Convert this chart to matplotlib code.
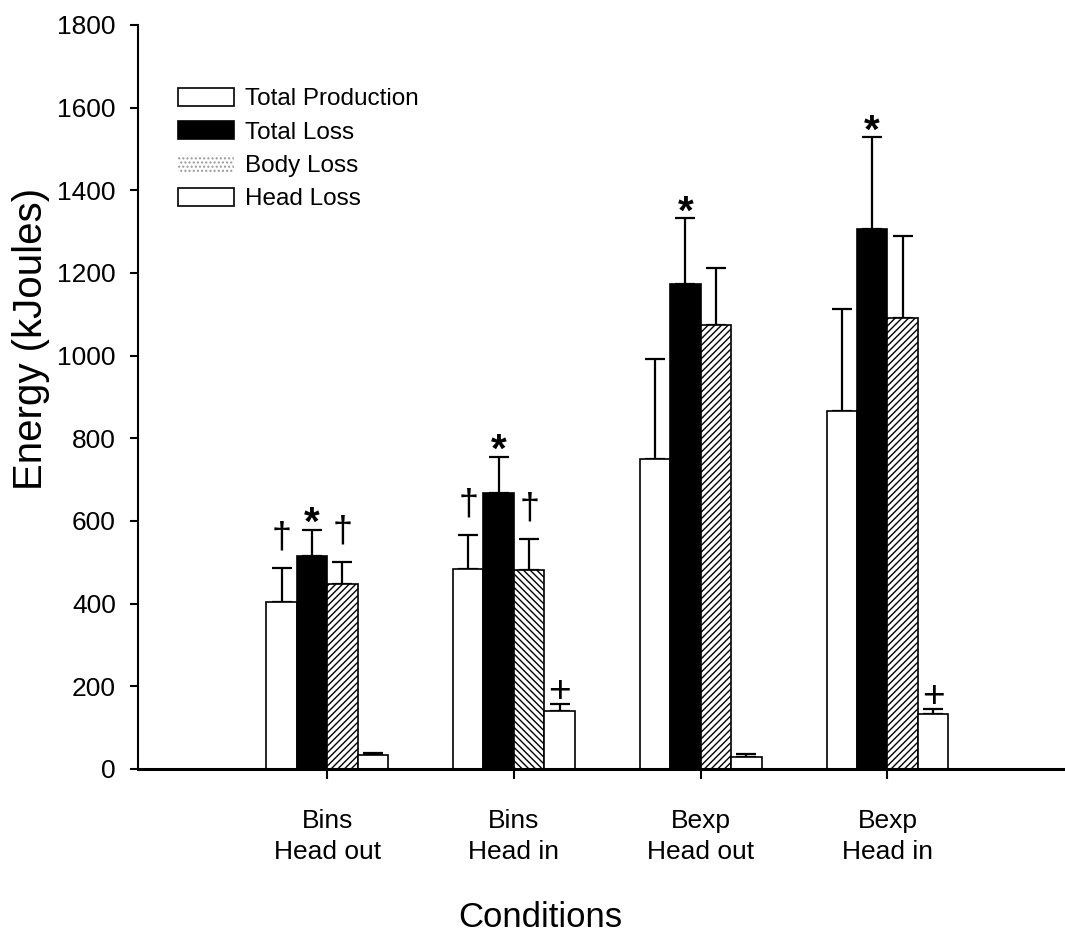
import numpy as np
import matplotlib
matplotlib.use("Agg")
import matplotlib.pyplot as plt
from matplotlib.patches import Patch

plt.rcParams['font.family'] = ['Liberation Sans', 'DejaVu Sans']
plt.rcParams['hatch.linewidth'] = 1.0

# ---- data ----
conditions = ["Bins\nHead out", "Bins\nHead in", "Bexp\nHead out", "Bexp\nHead in"]
series = ["Total Production", "Total Loss", "Body Loss", "Head Loss"]
total_production = [404, 484, 751, 867]
total_production_err = [82, 82, 241, 246]
total_loss = [515, 667, 1174, 1306]
total_loss_err = [63, 88, 158, 222]
body_loss = [447, 481, 1075, 1092]
body_loss_err = [53, 75, 138, 197]
head_loss = [34, 140, 30, 132]
head_loss_err = [5, 17, 6, 12]
# significance markers per series per condition
marks_production = ["†", "†", "", ""]
marks_total = ["*", "*", "*", "*"]
marks_body = ["†", "†", "", ""]
marks_head = ["", "+", "", "+"]

W, H = 1065, 932
fig = plt.figure(figsize=(W / 100, H / 100), dpi=100)
ax = fig.add_axes([138 / W, (H - 769) / H, 925 / W, (769 - 25) / H])

x = np.arange(1, len(conditions) + 1)
w = 0.163
values = [total_production, total_loss, body_loss, head_loss]
errors = [total_production_err, total_loss_err, body_loss_err, head_loss_err]
marks = [marks_production, marks_total, marks_body, marks_head]
faces = ["white", "black", "white", "white"]
body_hatches = ["/////", "\\\\\\\\\\", "/////", "/////"]
mark_style = {"*": (29, -3.5, "bold"), "†": (26, 15, "normal"), "+": (28, 1.5, "normal")}

for i in range(4):
    xs = x + (i - 1.5) * w
    vals = np.array(values[i])
    errs = np.array(errors[i])
    if i == 2:
        for j in range(len(xs)):
            ax.bar(xs[j], vals[j], width=w, facecolor="white", edgecolor="black",
                   hatch=body_hatches[j], linewidth=1.2, zorder=2)
    else:
        ax.bar(xs, vals, width=w, facecolor=faces[i], edgecolor="black",
               linewidth=1.2, zorder=2)
    ax.errorbar(xs, vals, yerr=[np.zeros_like(errs), errs], fmt="none",
                ecolor="black", elinewidth=1.6, capsize=7.5, capthick=1.6, zorder=1)
    for j, m in enumerate(marks[i]):
        if not m:
            continue
        top = vals[j] + errs[j]
        fs, off, fw = mark_style[m]
        ax.annotate(m, (xs[j], top), xytext=(0, off), textcoords="offset points",
                    ha="center", va="baseline", fontsize=fs, fontweight=fw,
                    color="black")

ax.set_xlim(-0.013, 4.94)
ax.set_ylim(0, 1800)
ax.set_yticks(np.arange(0, 1801, 200))
ax.set_xticks(x)
ax.set_xticklabels(conditions, fontsize=19, linespacing=1.35)
ax.tick_params(axis="y", direction="out", length=6, width=1.5, pad=10, labelsize=19)
ax.tick_params(axis="x", direction="out", length=7, width=1.5, pad=22)

for s in ["top", "right"]:
    ax.spines[s].set_visible(False)
ax.spines["left"].set_linewidth(1.5)
ax.spines["bottom"].set_linewidth(2.2)

ax.set_ylabel("Energy (kJoules)", fontsize=29)
ax.yaxis.set_label_coords(-0.095, (769 - 339) / 744)
fig.text(540 / W, (H - 927) / H, "Conditions", fontsize=25, ha="center", va="baseline")

handles = [
    Patch(facecolor="white", edgecolor="black", linewidth=1.2),
    Patch(facecolor="black", edgecolor="black", linewidth=1.2),
    Patch(facecolor="white", edgecolor="#999999", hatch="....", linewidth=0),
    Patch(facecolor="white", edgecolor="black", linewidth=1.2),
]
ax.legend(handles, series, loc="upper left", bbox_to_anchor=(178 / W, (H - 88) / H),
          bbox_transform=fig.transFigure, frameon=False, fontsize=17.5,
          handlelength=2.3, handleheight=0.75, handletextpad=0.45,
          labelspacing=0.45, borderpad=0, borderaxespad=0)

fig.savefig("out.png", dpi=100)
